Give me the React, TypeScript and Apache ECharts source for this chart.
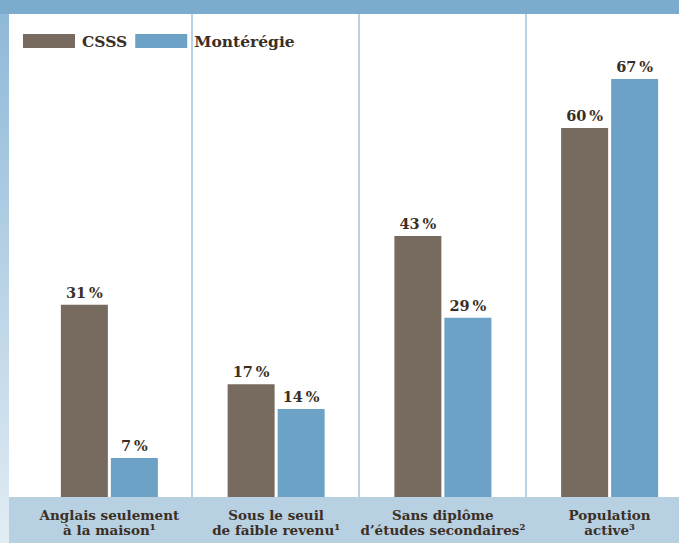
import React, { useEffect, useRef } from "react";
import * as echarts from "echarts";

const categories = [
  "Anglais seulement\nà la maison¹",
  "Sous le seuil\nde faible revenu¹",
  "Sans diplôme\nd’études secondaires²",
  "Population\nactive³",
];
const seriesNames = ["CSSS", "Montérégie"];
// bar heights (percent)
const csssValues = [31, 18.2, 42.1, 59.5];
const monteregieValues = [6.3, 14.2, 28.9, 67.4];
// printed labels (percent)
const csssLabels = [31, 17, 43, 60];
const monteregieLabels = [7, 14, 29, 67];

const FONT = "DejaVu Serif";
const TEXT = "#3b2f25";

export default function App() {
  const ref = useRef<HTMLDivElement>(null);
  useEffect(() => {
    if (!ref.current) return;
    const chart = echarts.init(ref.current, null, { renderer: "svg" });
    const labelOf = (arr: number[]) => (p: any) => `${arr[p.dataIndex]}\u2009%`;
    const barLabel = (arr: number[]) => ({
      show: true,
      position: "top" as const,
      distance: 5,
      formatter: labelOf(arr),
      fontFamily: FONT,
      fontWeight: "bold" as const,
      fontSize: 14.5,
      color: TEXT,
    });
    chart.setOption({
      animation: false,
      backgroundColor: "#ffffff",
      graphic: [
        { type: "rect", z: -10, shape: { x: 0, y: 0, width: 700, height: 14 }, style: { fill: "#7BACCD" } },
        {
          type: "rect",
          z: -10,
          shape: { x: 0, y: 14, width: 9, height: 529 },
          style: {
            fill: new echarts.graphic.LinearGradient(0, 0, 0, 1, [
              { offset: 0, color: "#8fb9d8" },
              { offset: 1, color: "#e2ecf4" },
            ]),
          },
        },
        { type: "rect", z: -10, shape: { x: 9, y: 497, width: 700, height: 46 }, style: { fill: "#B7D0E2" } },
        { type: "line", z: -5, shape: { x1: 192, y1: 14, x2: 192, y2: 497 }, style: { stroke: "#9CC3E0", lineWidth: 1.5 } },
        { type: "line", z: -5, shape: { x1: 359, y1: 14, x2: 359, y2: 497 }, style: { stroke: "#9CC3E0", lineWidth: 1.5 } },
        { type: "line", z: -5, shape: { x1: 526, y1: 14, x2: 526, y2: 497 }, style: { stroke: "#9CC3E0", lineWidth: 1.5 } },
      ],
      legend: {
        left: 18,
        top: 28,
        itemWidth: 52,
        itemHeight: 14,
        itemGap: 8,
        icon: "rect",
        data: seriesNames,
        textStyle: { fontFamily: FONT, fontWeight: "bold", fontSize: 15.5, color: TEXT, padding: [0, 0, 0, 2] },
      },
      grid: { left: 26, right: 0, top: 13.4, bottom: 46, containLabel: false },
      xAxis: {
        type: "category",
        data: categories,
        axisLine: { show: false },
        axisTick: { show: false },
        axisLabel: {
          interval: 0,
          margin: 10,
          fontFamily: FONT,
          fontWeight: "bold",
          fontSize: 13.5,
          lineHeight: 15,
          color: TEXT,
        },
      },
      yAxis: { type: "value", min: 0, max: 78, show: false, splitLine: { show: false } },
      series: [
        {
          name: seriesNames[0],
          type: "bar",
          data: csssValues,
          barWidth: 47,
          barGap: "6.4%",
          itemStyle: { color: "#776B5F" },
          label: barLabel(csssLabels),
        },
        {
          name: seriesNames[1],
          type: "bar",
          data: monteregieValues,
          barWidth: 47,
          itemStyle: { color: "#6BA2C6" },
          label: barLabel(monteregieLabels),
        },
      ],
    });
    return () => chart.dispose();
  }, []);
  return <div ref={ref} style={{ width: 693, height: 543, position: "fixed", left: 0, top: 0 }} />;
}
